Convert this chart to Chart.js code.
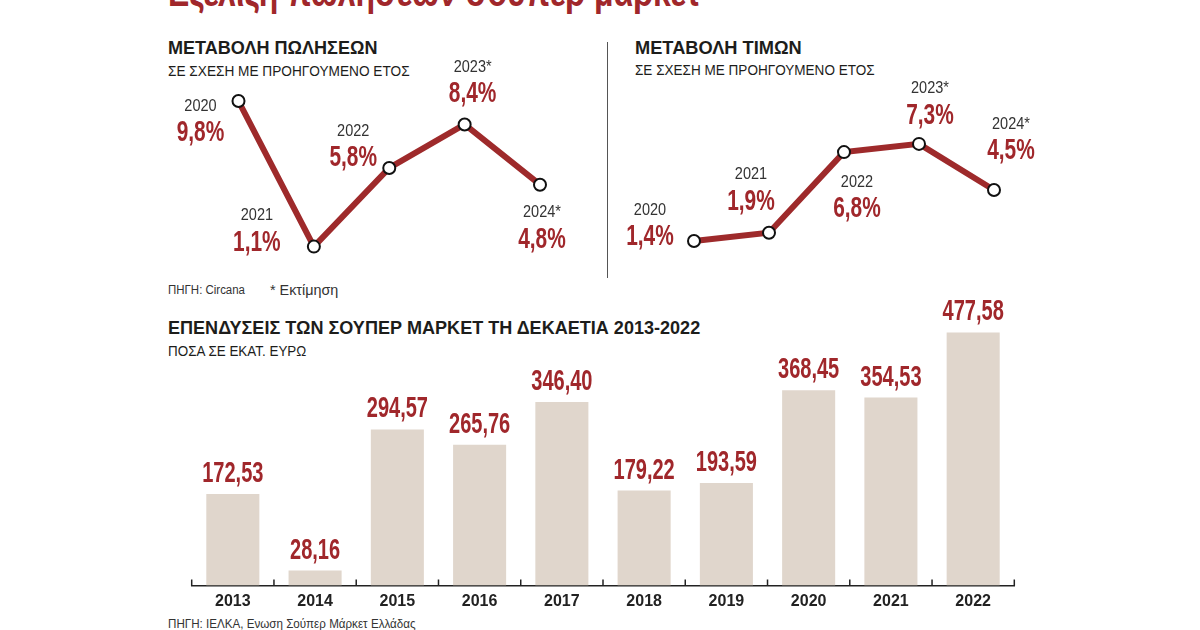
<!DOCTYPE html>
<html>
<head>
<meta charset="utf-8">
<script src="https://cdn.jsdelivr.net/npm/chart.js@4.4.1/dist/chart.umd.min.js"></script>
<style>
  html, body { margin: 0; padding: 0; background: #fff; }
  #page { position: relative; width: 1200px; height: 630px; overflow: hidden; font-family: "Liberation Sans", Arial, sans-serif; }
  .t { position: absolute; white-space: nowrap; line-height: 1; transform-origin: left center; transform: translateY(-50%); color: #1d1d1b; }
  .b { font-weight: bold; }
  canvas { position: absolute; }
  #divider { position: absolute; left: 607px; top: 42px; width: 1px; height: 236px; background: #555; }
</style>
</head>
<body>
<div id="page">
  <div class="t b" style="left:168px; top:-8px; font-size:40px; color:#a0272b" data-w="532">Εξέλιξη πωλήσεων σούπερ μάρκετ</div>

  <div class="t b" style="left:168px; top:46.5px; font-size:19px" data-w="209">ΜΕΤΑΒΟΛΗ ΠΩΛΗΣΕΩΝ</div>
  <div class="t" style="left:168px; top:71px; font-size:14.5px" data-w="242">ΣΕ ΣΧΕΣΗ ΜΕ ΠΡΟΗΓΟΥΜΕΝΟ ΕΤΟΣ</div>
  <div class="t b" style="left:635px; top:46.5px; font-size:19px" data-w="167">ΜΕΤΑΒΟΛΗ ΤΙΜΩΝ</div>
  <div class="t" style="left:635px; top:70px; font-size:14.5px" data-w="240">ΣΕ ΣΧΕΣΗ ΜΕ ΠΡΟΗΓΟΥΜΕΝΟ ΕΤΟΣ</div>
  <div id="divider"></div>

  <div class="t" style="left:168px; top:290px; font-size:12.5px; color:#333" data-w="77">ΠΗΓΗ: Circana</div>
  <div class="t" style="left:270px; top:289px; font-size:15px; color:#333" data-w="68">* Εκτίμηση</div>

  <div class="t b" style="left:168px; top:327px; font-size:19px" data-w="532">ΕΠΕΝΔΥΣΕΙΣ ΤΩΝ ΣΟΥΠΕΡ ΜΑΡΚΕΤ ΤΗ ΔΕΚΑΕΤΙΑ 2013-2022</div>
  <div class="t" style="left:168px; top:351px; font-size:14.5px" data-w="138">ΠΟΣΑ ΣΕ ΕΚΑΤ. ΕΥΡΩ</div>
  <div class="t" style="left:168px; top:624px; font-size:12.5px; color:#333" data-w="248">ΠΗΓΗ: ΙΕΛΚΑ, Ενωση Σούπερ Μάρκετ Ελλάδας</div>

  <canvas id="sales" width="440" height="230" style="left:160px; top:60px"></canvas>
  <canvas id="prices" width="450" height="230" style="left:610px; top:60px"></canvas>
  <canvas id="invest" width="1200" height="330" style="left:0px; top:300px"></canvas>
</div>

<script>
// data
const lineYears = ['2020', '2021', '2022', '2023*', '2024*'];
const salesChange = [9.8, 1.1, 5.8, 8.4, 4.8];
const priceChange = [1.4, 1.9, 6.8, 7.3, 4.5];

const barYears = ['2013', '2014', '2015', '2016', '2017', '2018', '2019', '2020', '2021', '2022'];
const investments = [172.53, 28.16, 294.57, 265.76, 346.40, 179.22, 193.59, 368.45, 354.53, 477.58];

// where the value label sits relative to each point (px)
const salesLabelOffsets = [[-38, 32], [-57, -4], [-36, -10], [8, -30], [2, 55]];
const priceLabelOffsets = [[-44, -4], [-18, -31], [13, 57], [11, -28], [17, -39]];

const RED = '#a0272b';
const FONT = '"Liberation Sans", Arial, sans-serif';

// squeeze the html texts to the widths of the reference
document.querySelectorAll('.t[data-w]').forEach(el => {
    const s = parseFloat(el.dataset.w) / el.offsetWidth;
    el.style.transform = `translateY(-50%) scaleX(${s})`;
});

function drawText(ctx, text, x, y, font, color, sx, baseline) {
    ctx.save();
    ctx.translate(x, y);
    ctx.scale(sx, 1);
    ctx.font = font;
    ctx.fillStyle = color;
    ctx.textAlign = 'center';
    ctx.textBaseline = baseline || 'middle';
    ctx.fillText(text, 0, 0);
    ctx.restore();
}

const pct = v => v.toFixed(1).replace('.', ',') + '%';
const euro = v => v.toFixed(2).replace('.', ',');

const pointLabels = {
    id: 'pointLabels',
    afterDatasetsDraw(chart, args, opts) {
        const ctx = chart.ctx;
        const values = chart.data.datasets[0].data;
        chart.getDatasetMeta(0).data.forEach((pt, i) => {
            const [dx, dy] = opts.offsets[i];
            drawText(ctx, chart.data.labels[i], pt.x + dx, pt.y + dy - 27, '16.5px ' + FONT, '#333', 0.88);
            drawText(ctx, pct(values[i]), pt.x + dx, pt.y + dy, 'bold 29px ' + FONT, RED, 0.72);
        });
    }
};

function lineChart(id, values, offsets, padding) {
    return new Chart(document.getElementById(id), {
        type: 'line',
        data: {
            labels: lineYears,
            datasets: [{
                data: values,
                borderColor: '#9e2a2b',
                borderWidth: 6,
                tension: 0,
                clip: false,
                pointRadius: 6,
                pointBorderWidth: 2,
                pointBackgroundColor: '#fff',
                pointBorderColor: '#111'
            }]
        },
        options: {
            responsive: false,
            animation: false,
            devicePixelRatio: 1,
            layout: { padding: padding },
            scales: {
                x: { display: false, offset: false },
                y: { display: false, min: 0, max: 11 }
            },
            plugins: {
                legend: { display: false },
                tooltip: { enabled: false },
                pointLabels: { offsets: offsets }
            }
        },
        plugins: [pointLabels]
    });
}

lineChart('sales', salesChange, salesLabelOffsets, { left: 78.5, right: 60, top: 21, bottom: 25 });
lineChart('prices', priceChange, priceLabelOffsets, { left: 84, right: 66, top: 23, bottom: 26 });

const barLabels = {
    id: 'barLabels',
    afterDatasetsDraw(chart) {
        const ctx = chart.ctx;
        const values = chart.data.datasets[0].data;
        chart.getDatasetMeta(0).data.forEach((bar, i) => {
            drawText(ctx, euro(values[i]), bar.x, bar.y - 12, 'bold 29px ' + FONT, RED, 0.69, 'alphabetic');
        });
    },
    afterDraw(chart) {
        // small upward ticks between the years
        const ctx = chart.ctx;
        const x = chart.scales.x;
        const bottom = chart.chartArea.bottom;
        const n = chart.data.labels.length;
        ctx.save();
        ctx.strokeStyle = '#222';
        ctx.lineWidth = 1.5;
        for (let i = 0; i <= n; i++) {
            let px;
            if (i === 0) px = chart.chartArea.left;
            else if (i === n) px = chart.chartArea.right;
            else px = (x.getPixelForValue(i - 1) + x.getPixelForValue(i)) / 2;
            ctx.beginPath();
            ctx.moveTo(px, bottom + 0.5);
            ctx.lineTo(px, bottom - 6);
            ctx.stroke();
        }
        ctx.restore();
    }
};

new Chart(document.getElementById('invest'), {
    type: 'bar',
    data: {
        labels: barYears,
        datasets: [{
            data: investments,
            backgroundColor: '#e0d6cc',
            categoryPercentage: 1,
            barPercentage: 0.645
        }]
    },
    options: {
        responsive: false,
        animation: false,
        devicePixelRatio: 1,
        layout: { padding: { left: 191.7, right: 185.7, top: 20.5, bottom: 0 } },
        scales: {
            x: {
                grid: { display: false, drawTicks: false },
                border: { display: true, color: '#222', width: 1.5 },
                ticks: { color: '#222', padding: 6, font: { family: FONT, size: 16, weight: 'bold' } },
                afterFit: s => { s.height = 44.5; }
            },
            y: { display: false, min: 0, max: 500 }
        },
        plugins: {
            legend: { display: false },
            tooltip: { enabled: false }
        }
    },
    plugins: [barLabels]
});
</script>
</body>
</html>
